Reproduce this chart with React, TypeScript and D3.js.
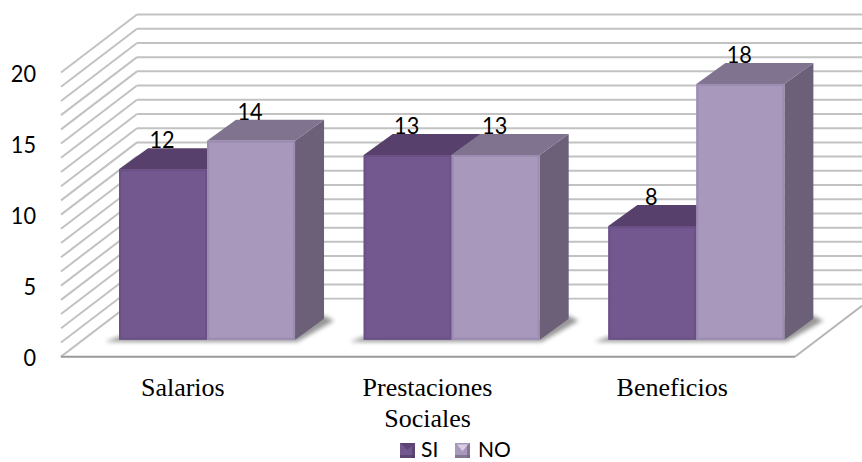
import React from "react";
import * as d3 from "d3";

const categories = ["Salarios", "Prestaciones Sociales", "Beneficios"];
const categoryLines = [["Salarios"], ["Prestaciones", "Sociales"], ["Beneficios"]];
const siValues = [12, 13, 8];
const noValues = [14, 13, 18];
const yTicks = [0, 5, 10, 15, 20];
const gridLevels = d3.range(0, 21);
const seriesNames = ["SI", "NO"];

const W = 862;
const H = 462;
// Oblique projection: the full floor depth, and the depth occupied by each bar.
const wallDx = 76;
const wallDy = 58;
const barOffsetX = 23.7;
const barOffsetY = 17;
const barDepthX = 29;
const barDepthY = 21;
// Numerals are set slightly condensed.
const digitWidth = 12.6;

const y = d3.scaleLinear().domain([0, 20]).range([356.7, 72.5]);
const x0 = d3.scaleBand<string>().domain(categories).range([61, 795]);
const xSeries = d3.scaleBand<string>().domain(seriesNames).range([0, 176]);

const palette = {
  SI: { front: "#73578f", edge: "#6a5085", top: "#57406b", side: "#4d3a60" },
  NO: { front: "#a898bc", edge: "#9c8cb2", top: "#7f7390", side: "#6b6077" },
} as Record<string, { front: string; edge: string; top: string; side: string }>;

const poly = (pts: number[][]) => pts.map((p) => p.join(",")).join(" ");

function Numeral({ value, xPos, yPos, anchor }: { value: number; xPos: number; yPos: number; anchor: string }) {
  return (
    <text
      x={xPos}
      y={yPos}
      textAnchor={anchor}
      textLength={String(value).length * digitWidth}
      lengthAdjust="spacingAndGlyphs"
      fontFamily="Lato, 'Open Sans', sans-serif"
      fontSize={23.5}
      fill="#000"
    >
      {value}
    </text>
  );
}

function Bar({ cat, name, value }: { cat: string; name: string; value: number }) {
  const c = palette[name];
  const groupLeft = x0(cat)! + (x0.bandwidth() - 176) / 2 + barOffsetX;
  const left = groupLeft + xSeries(name)!;
  const right = left + xSeries.bandwidth();
  const base = y(0) - barOffsetY;
  const top = y(value) - barOffsetY;
  return (
    <g>
      <polygon
        fill={c.side}
        points={poly([[right, top], [right + barDepthX, top - barDepthY], [right + barDepthX, base - barDepthY], [right, base]])}
      />
      <polygon
        fill={c.top}
        points={poly([[left, top], [left + barDepthX, top - barDepthY], [right + barDepthX, top - barDepthY], [right, top]])}
      />
      <rect x={left} y={top} width={right - left} height={base - top} fill={c.front} />
      <rect x={left + 1} y={top + 1} width={right - left - 2} height={base - top - 2} fill="none" stroke={c.edge} strokeWidth={2} />
      <Numeral value={value} xPos={(left + right) / 2 - 1} yPos={top - barDepthY} anchor="middle" />
    </g>
  );
}

function Swatch({ xPos, name }: { xPos: number; name: string }) {
  const c = palette[name];
  const s = 15;
  const t = 443;
  return (
    <g>
      <rect x={xPos} y={t} width={s} height={s} fill={c.front} />
      <polygon fill={c.top} points={poly([[xPos, t], [xPos + s, t], [xPos + s / 2, t + s * 0.45]])} opacity={name === "NO" ? 0 : 0.8} />
      <polygon fill="#d9d0e3" points={poly([[xPos + 2, t + 1.5], [xPos + s - 2, t + 1.5], [xPos + s / 2, t + s * 0.55]])} opacity={name === "NO" ? 1 : 0} />
      <polygon fill={c.side} points={poly([[xPos + s - 3, t + 3], [xPos + s, t], [xPos + s, t + s], [xPos + s - 3, t + s]])} opacity={0.6} />
      <rect x={xPos} y={t + s - 3} width={s} height={3} fill={c.side} opacity={0.6} />
    </g>
  );
}

export default function App() {
  const floorShadows = categories.map((cat) => {
    const left = x0(cat)! + (x0.bandwidth() - 176) / 2 + barOffsetX;
    const base = y(0) - barOffsetY;
    return poly([
      [left - 14, base + 2],
      [left + 176 + 2, base + 2],
      [left + 176 + barDepthX + 10, base - barDepthY + 2],
      [left + 176 + barDepthX, base - barDepthY - 3],
      [left, base - 3],
    ]);
  });

  return (
    <svg width={W} height={H} viewBox={`0 0 ${W} ${H}`} style={{ position: "fixed", left: 0, top: 0, background: "#fff" }}>
      <defs>
        <filter id="floorBlur" x="-20%" y="-50%" width="140%" height="200%">
          <feGaussianBlur stdDeviation="2.2" />
        </filter>
      </defs>

      {/* Back wall and side wall grid */}
      <g stroke="#c2c2c2" strokeWidth={2} fill="none">
        {gridLevels.map((v) => (
          <g key={v}>
            <line x1={61} y1={y(v)} x2={61 + wallDx} y2={y(v) - wallDy} />
            <line x1={61 + wallDx} y1={y(v) - wallDy} x2={W} y2={y(v) - wallDy} />
          </g>
        ))}
      </g>
      <polygon fill="#fff" points={poly([[61, y(0)], [61 + wallDx, y(0) - wallDy + 1], [W, y(0) - wallDy + 1], [W, y(0) - wallDy + 6], [795, y(0)]])} />

      {/* Floor outline */}
      <line x1={61} y1={y(0)} x2={61 + wallDx} y2={y(0) - wallDy} stroke="#c2c2c2" strokeWidth={2} />
      <line x1={795} y1={y(0)} x2={W} y2={y(0) - 51} stroke="#b5b5b5" strokeWidth={2} />
      <line x1={61} y1={y(0)} x2={795} y2={y(0)} stroke="#9a9a9a" strokeWidth={2} />

      {/* Soft contact shadows under the bar groups */}
      {floorShadows.map((pts, i) => (
        <polygon key={i} points={pts} fill="#7d7d7d" opacity={0.8} filter="url(#floorBlur)" />
      ))}

      {/* Bars */}
      {categories.map((cat, i) => (
        <g key={cat}>
          <Bar cat={cat} name="SI" value={siValues[i]} />
          <Bar cat={cat} name="NO" value={noValues[i]} />
        </g>
      ))}

      {/* Value axis labels */}
      {yTicks.map((t) => (
        <Numeral key={t} value={t} xPos={36} yPos={y(t) + 9} anchor="end" />
      ))}

      {/* Category labels */}
      {categories.map((cat, i) => (
        <text
          key={cat}
          textAnchor="middle"
          fontFamily="'Liberation Serif', 'Times New Roman', serif"
          fontSize={26}
          fill="#000"
        >
          {categoryLines[i].map((line, j) => (
            <tspan key={line} x={x0(cat)! + x0.bandwidth() / 2 - 0.5} y={396 + j * 31}>
              {line}
            </tspan>
          ))}
        </text>
      ))}

      {/* Legend */}
      <Swatch xPos={400} name="SI" />
      <text x={421} y={457} fontFamily="Lato, 'Open Sans', sans-serif" fontSize={21} fill="#000">SI</text>
      <Swatch xPos={455} name="NO" />
      <text x={478} y={457} fontFamily="Lato, 'Open Sans', sans-serif" fontSize={21} fill="#000">NO</text>
    </svg>
  );
}
